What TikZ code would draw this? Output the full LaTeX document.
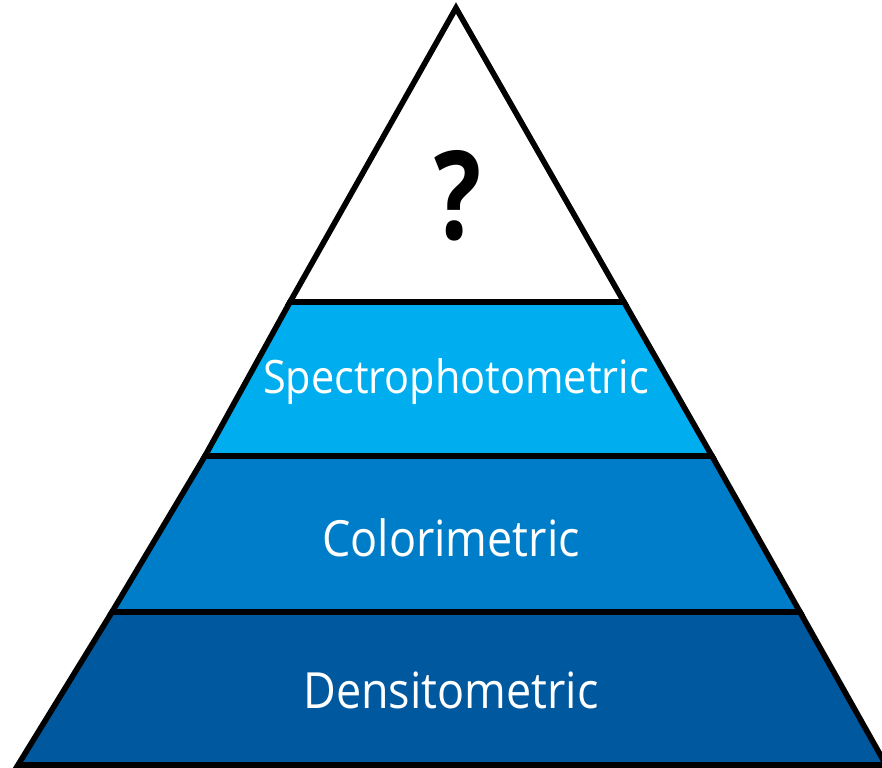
\documentclass[tikz,border=0pt]{standalone}
\usepackage{fontspec}
\newfontfamily\layerfont[FakeStretch=0.9]{Open Sans}
\newfontfamily\markfont[FakeStretch=0.8]{Open Sans}
\usetikzlibrary{positioning,calc}

\definecolor{spectroblue}{RGB}{0,174,239}
\definecolor{colorblue}{RGB}{0,125,200}
\definecolor{densiblue}{RGB}{0,88,158}

\begin{document}
\begin{tikzpicture}[
    band/.style={draw=black, line width=1.6pt, line join=miter},
    layer/.style={text=white, font=\layerfont\fontsize{14.2pt}{16pt}\selectfont, anchor=base},
    query/.style={font=\markfont\bfseries\fontsize{35pt}{37pt}\selectfont}
]
\useasboundingbox (0,0) rectangle (8.82,7.68);
\clip (0,0) rectangle (8.82,7.68);

% Corner points of the layers
\coordinate (apex) at (4.56,7.60);
\coordinate (l1) at (2.90,4.66); \coordinate (r1) at (6.24,4.66);
\coordinate (l2) at (2.05,3.12); \coordinate (r2) at (7.12,3.12);
\coordinate (l3) at (1.12,1.56); \coordinate (r3) at (8.00,1.56);
\coordinate (l4) at (0.18,0.03); \coordinate (r4) at (8.86,0.03);

% Layers
\filldraw[band, fill=white] (apex) -- (r1) -- (l1) -- cycle;
\filldraw[band, fill=spectroblue] (l1) -- (r1) -- (r2) -- (l2) -- cycle;
\filldraw[band, fill=colorblue] (l2) -- (r2) -- (r3) -- (l3) -- cycle;
\filldraw[band, fill=densiblue] (l3) -- (r3) -- (r4) -- (l4) -- cycle;

% Labels
\node[query] (top) at (4.58,5.72) {?};
\node[layer, font=\layerfont\fontsize{13.1pt}{15pt}\selectfont] (spectro) at (4.56,3.74) {Spectrophotometric};
\node[layer] (colori) at (4.51,2.11) {Colorimetric};
\node[layer] (densi) at (4.51,0.59) {Densitometric};

\end{tikzpicture}
\end{document}
